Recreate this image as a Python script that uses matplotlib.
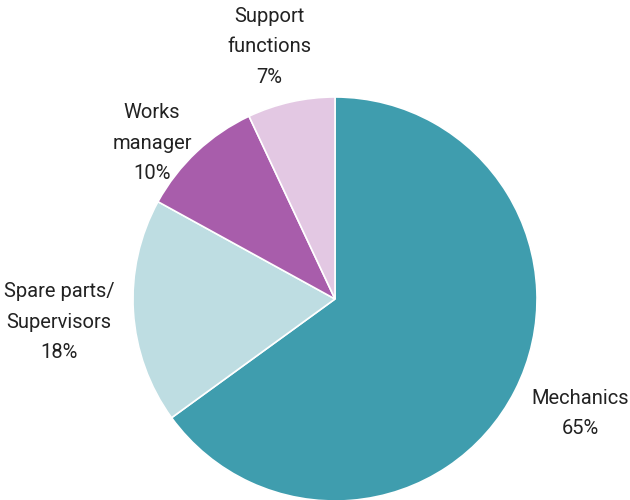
import numpy as np
import matplotlib
matplotlib.use("Agg")
import matplotlib.pyplot as plt

# data
categories = ["Mechanics", "Spare parts/\nSupervisors", "Works\nmanager", "Support\nfunctions"]
shares = [65, 18, 10, 7]
colors = ["#3F9DAE", "#BEDDE2", "#A85DAB", "#E3C8E3"]

# label placement (radial distance, angle nudge in degrees)
label_dist = [1.34, 1.37, 1.19, 1.29]
label_nudge = [2.0, 1.2, 6.4, 2.0]

plt.rcParams['font.family'] = ['Roboto', 'DejaVu Sans']

fig = plt.figure(figsize=(6.3, 5.0), dpi=100)
ax = fig.add_axes([133 / 630, -1 / 500, 404 / 630, 404 / 500])

wedges, _ = ax.pie(shares, colors=colors, startangle=90, counterclock=False,
                   radius=1.0, wedgeprops=dict(linewidth=1.2, edgecolor="white"))

for w, name, pct, d, nud in zip(wedges, categories, shares, label_dist, label_nudge):
    mid = np.deg2rad((w.theta1 + w.theta2) / 2 + nud)
    ax.text(d * np.cos(mid), d * np.sin(mid), f"{name}\n{pct}%",
            ha="center", va="center", fontsize=14.5, color="#222222",
            linespacing=1.75)

ax.set_xlim(-1, 1)
ax.set_ylim(-1, 1)
ax.set_aspect("equal")
ax.axis("off")

fig.savefig("out.png", dpi=100)
